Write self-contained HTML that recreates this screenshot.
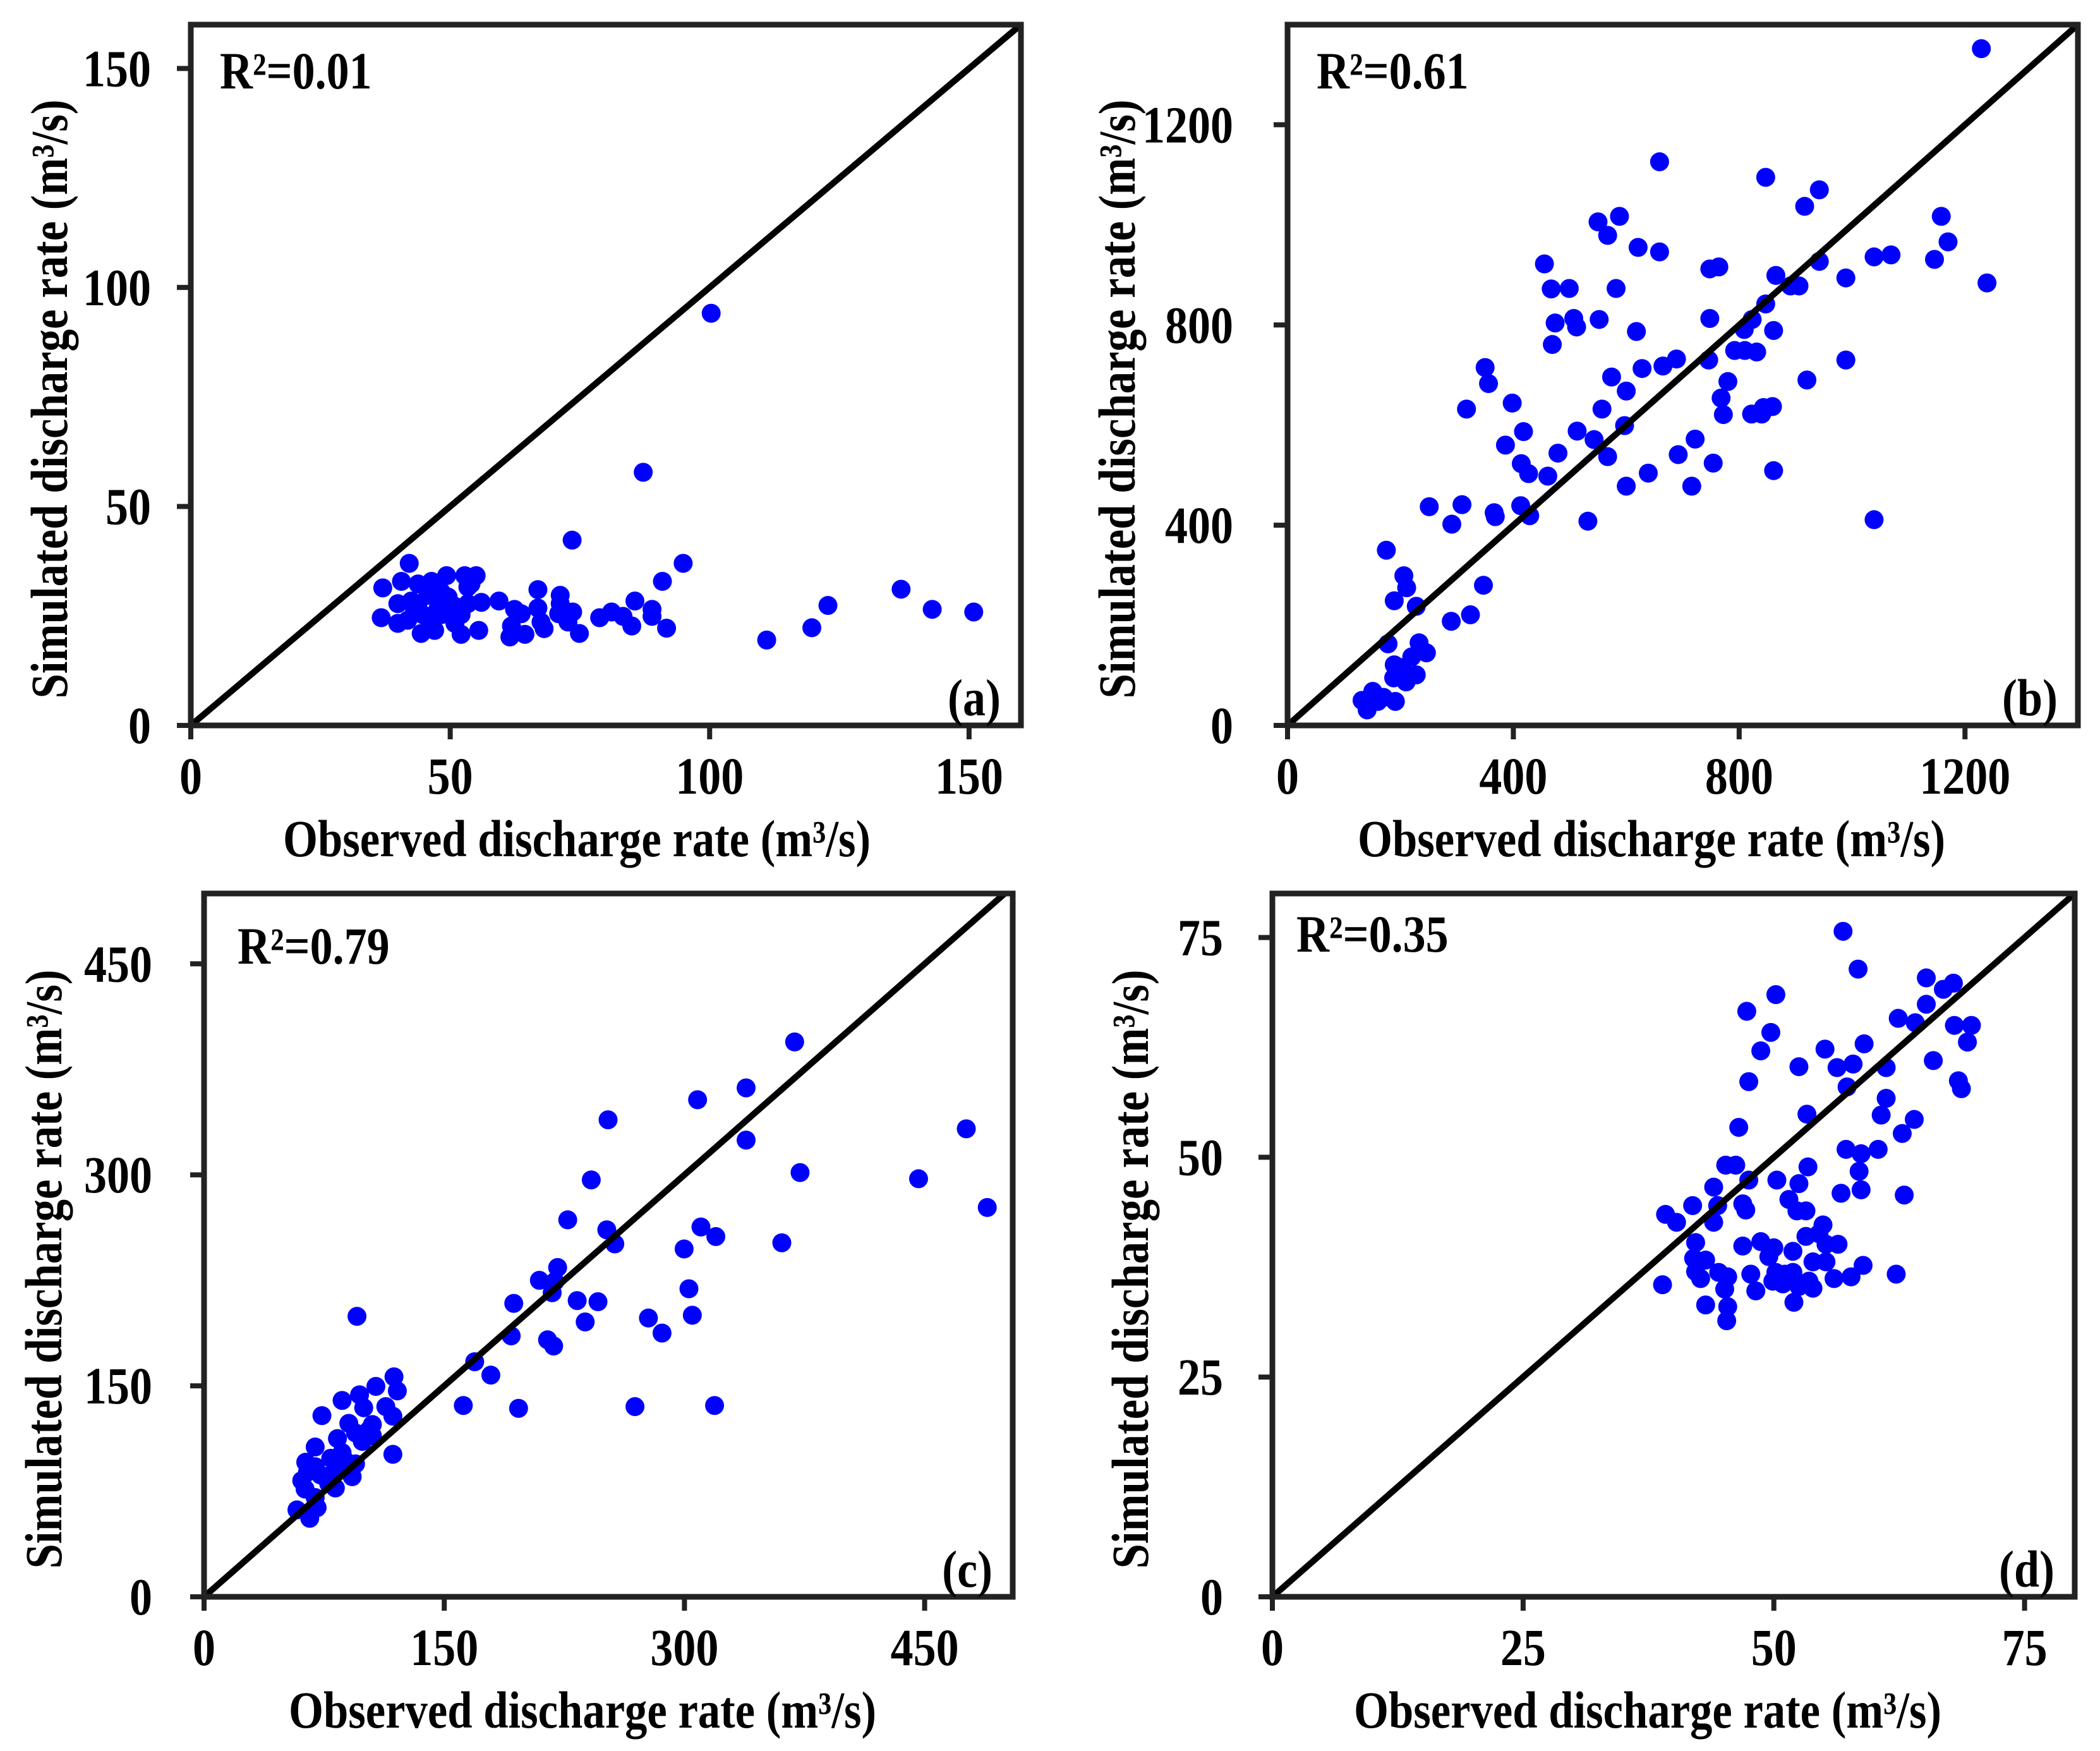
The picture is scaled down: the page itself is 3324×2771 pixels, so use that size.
<!DOCTYPE html>
<html><head><meta charset="utf-8"><style>
html,body{margin:0;padding:0;background:#fff;}
svg{display:block;}
text{font-family:"Liberation Serif","Times New Roman",serif;font-weight:bold;fill:#000;}
</style></head>
<body>
<svg id="fig" xmlns="http://www.w3.org/2000/svg" width="3324" height="2771" viewBox="0 0 3324 2771"></svg>
<script>
// Panel (a) data
const aObs = [100.3,87.2,73.5,94.9,90.9,136.9,142.9,150.9,122.8,119.7,111.0,91.7,88.9,88.9,85.6,85.0,83.3,81.1,78.8,74.9,73.6,72.7,70.9,71.2,71.2,68.1,67.5,66.9,66.9,64.4,63.7,62.4,61.5,61.8,59.4,55.5,56.0,55.0,53.4,52.1,52.1,52.8,50.9,49.3,48.3,47.0,47.6,46.4,44.4,44.7,43.8,42.1,42.5,41.8,40.6,39.9,39.9,37.0,36.7,45.7,43.8,49.6,54.0,48.3,43.1,50.9,53.4,46.4];
const aSim = [94.1,57.8,42.3,37.0,32.9,31.1,26.5,25.9,27.4,22.3,19.5,22.2,26.5,24.9,28.4,22.7,24.9,25.9,24.6,21.0,25.9,23.6,25.5,29.7,27.8,22.1,23.6,26.8,31.0,20.8,25.5,26.5,20.2,22.7,28.4,21.7,28.1,34.2,31.6,20.8,25.3,34.2,27.2,34.2,30.4,21.7,26.5,32.9,21.0,25.3,32.3,37.0,28.4,24.0,32.9,27.8,23.3,31.4,24.6,29.7,27.8,29.3,32.3,25.3,25.9,23.3,27.8,23.3];
// Panel (b) data
const bObs = [1229,659,847,942,916,588,1158,550,567,1170,621,659,455,1039,1069,1146,942,748,764,989,865,1239,891,906,467,499,582,847,474,507,512,552,748,823,809,861,618,469,792,810,831,689,665,746,989,350,628,574,780,920,356,600,768,398,317,557,772,822,840,859,843,597,418,513,543,722,386,479,692,567,414,754,427,461,639,861,600,716,251,309,413,366,368,429,291,532,1039,175,206,211,189,228,347,290,324,178,233,246,220,189,208,228,188,210,151,170,191,132,160,141,196];
const bSim = [1352,1126,1095,1070,1037,1017,1017,1006,979,966,955,946,922,936,940,931,927,912,916,894,899,884,878,878,872,873,873,842,804,813,796,811,813,811,791,789,787,761,749,749,746,732,718,730,730,715,713,696,687,690,683,668,654,644,632,632,621,622,622,637,635,599,587,588,571,572,560,544,541,537,523,524,503,498,504,509,478,478,437,441,439,425,417,419,402,408,411,350,299,275,249,238,280,208,221,163,165,145,137,121,104,101,95,87,68,56,48,50,48,31,117];
// Panel (c) data
const cObs = [368.8,338.5,308.2,252.3,476.0,338.5,372.2,446.2,241.8,489.1,227.1,251.5,310.3,319.6,256.5,360.8,299.8,220.8,209.4,219.1,217.4,302.8,233.0,246.0,193.4,277.5,304.9,238.0,286.0,191.8,214.5,218.3,169.0,179.1,161.9,196.4,269.1,318.8,95.5,118.6,107.3,120.7,97.1,86.2,113.5,99.7,117.9,73.6,90.4,105.1,94.6,83.3,105.1,98.8,117.9,69.4,86.2,63.5,79.1,94.6,69.4,61.0,72.8,82.0,92.5,63.1,82.0,69.4,70.6,58.0,66.0,77.8,88.3,103.0,64.6];
const cSim = [394.5,361.8,353.4,339.1,332.7,324.7,301.6,297.2,296.4,276.8,268.0,260.9,262.9,256.1,250.9,251.7,247.3,234.1,225.0,224.2,216.2,219.0,210.6,209.8,208.6,198.2,200.2,195.4,187.5,185.5,182.7,178.3,167.1,157.6,136.0,134.0,135.2,136.0,199.4,156.4,149.6,146.4,143.6,139.6,135.2,134.4,128.4,128.8,123.3,122.5,116.5,112.5,114.5,110.5,101.3,106.5,102.5,95.7,98.5,94.5,92.5,82.6,86.6,90.5,85.4,76.6,77.4,70.6,63.4,61.8,55.8,80.6,96.5,118.5,88.6];
// Panel (d) data
const dObs = [56.9,58.4,65.2,67.9,66.9,50.2,65.2,47.3,62.4,64.1,68.0,69.7,49.7,59.0,69.3,48.7,55.1,65.9,57.9,52.5,56.3,61.2,47.5,57.3,68.4,68.7,61.2,53.3,60.7,64.0,46.5,62.8,57.2,58.7,60.4,45.2,46.2,53.4,58.5,47.5,50.3,52.5,44.0,56.7,58.7,63.0,51.5,41.9,44.4,46.9,47.2,52.3,53.2,39.2,40.3,44.0,54.9,53.2,54.5,42.2,48.7,46.9,50.0,51.9,55.2,56.4,49.5,42.0,43.2,53.9,55.2,58.9,42.2,44.5,47.7,50.2,51.1,51.9,45.4,42.7,62.2,56.0,57.7,49.9,50.9,53.5,52.5,38.9,45.1,53.9,48.2,52.0,43.2,45.4,45.3];
const dSim = [75.7,71.4,70.4,69.8,69.1,68.5,67.4,66.6,65.8,65.3,65.0,65.0,64.2,62.9,63.1,62.1,62.3,61.0,60.6,60.3,60.2,60.2,58.6,58.0,58.7,57.8,56.7,54.9,54.8,54.3,53.4,52.7,50.9,50.4,50.9,49.1,49.1,48.9,48.4,47.4,47.4,47.0,46.6,45.9,46.3,45.7,45.2,44.5,44.5,44.7,44.0,43.9,43.9,43.5,42.6,42.6,42.3,41.0,41.3,40.3,40.4,39.9,39.7,39.3,40.1,40.1,38.7,38.5,38.3,38.1,38.1,37.7,37.0,36.9,36.7,36.9,36.7,36.9,36.4,36.2,36.7,36.2,36.4,35.9,35.6,35.9,35.3,35.5,35.0,35.1,34.8,33.5,33.2,33.0,31.4];
// Tick labels
const aTicks = [0,50,100,150];
const bTicks = [0,400,800,1200];
const cTicks = [0,150,300,450];
const dTicks = [0,25,50,75];
const r2Labels = ["R²=0.01","R²=0.61","R²=0.79","R²=0.35"];
const panelLetters = ["(a)","(b)","(c)","(d)"];

const NS = "http://www.w3.org/2000/svg";
const svg = document.getElementById('fig');
const TS = 1.15; // vertical text stretch
function mk(tag, attrs, parent){
  const e = document.createElementNS(NS, tag);
  for (const k in attrs) e.setAttribute(k, attrs[k]);
  (parent||svg).appendChild(e);
  return e;
}
function txt(parent, x, y, str, attrs, rot){
  const a = Object.assign({x: 0, y: 0, 'font-size': 72}, attrs);
  a.transform = 'translate(' + x + ',' + y + ')' + (rot ? ' rotate(-90)' : '') + ' scale(1,' + TS + ')';
  const t = mk('text', a, parent);
  t.textContent = str;
  return t;
}
const panels = [
  {id:'a', L:302, R:1616, T:39, B:1148, xmax:160, ymax:160, dmax:160, obs:aObs, sim:aSim, ticks:aTicks, ylg:63, ytx:78, xtc:913, r2x:348, r2y:140},
  {id:'b', L:2038, R:3289, T:39, B:1148, xmax:1400, ymax:1400, dmax:1400, obs:bObs, sim:bSim, ticks:bTicks, ylg:86, ytx:1768, xtc:2614, r2x:2084, r2y:140},
  {id:'c', L:323, R:1603, T:1414, B:2527, xmax:505, ymax:500, dmax:500, obs:cObs, sim:cSim, ticks:cTicks, ylg:82, ytx:69, xtc:922, r2x:376, r2y:1525},
  {id:'d', L:2014, R:3284, T:1414, B:2527, xmax:80, ymax:80, dmax:80, obs:dObs, sim:dSim, ticks:dTicks, ylg:78, ytx:1789, xtc:2608, r2x:2052, r2y:1506}
];
panels.forEach((p, i) => {
  const g = mk('g', {});
  
  
  const sx = v => p.L + (p.R - p.L) * v / p.xmax;
  const sy = v => p.B - (p.B - p.T) * v / p.ymax;
  const pts = mk('g', {}, g);
  
  
  for (let k = 0; k < p.obs.length; k++) {
    const c = mk('circle', {cx: sx(p.obs[k]), cy: sy(p.sim[k]), r: 15, fill: '#0000ff'}, pts);
    
    
  }
  const ln = mk('line', {x1: sx(0), y1: sy(0), x2: sx(p.dmax), y2: sy(p.dmax), stroke: '#000', 'stroke-width': 10}, g);
  
  
  const bx = mk('rect', {x: p.L, y: p.T, width: p.R - p.L, height: p.B - p.T, fill: 'none', stroke: '#222', 'stroke-width': 9}, g);
  
  
  p.ticks.forEach(t => {
    const x = sx(t), y = sy(t);
    const tx = mk('line', {x1: x, y1: p.B, x2: x, y2: p.B + 22, stroke: '#222', 'stroke-width': 8}, g);
    
    
    const ty = mk('line', {x1: p.L - 22, y1: y, x2: p.L, y2: y, stroke: '#222', 'stroke-width': 8}, g);
    
    
    const xl = txt(g, x, p.B + 108, t, {'text-anchor': 'middle'});
    
    
    const yl = txt(g, p.L - p.ylg, y + 28, t, {'text-anchor': 'end'});
    
    
  });
  const xt = txt(g, p.xtc, p.B + 207, 'Observed discharge rate (m³/s)', {'text-anchor': 'middle', textLength: 930, lengthAdjust: 'spacingAndGlyphs'});
  
  
  const cy = (p.T + p.B) / 2 + 38;
  const yt = txt(g, p.ytx + 28, cy, 'Simulated discharge rate (m³/s)', {'text-anchor': 'middle', textLength: 948, lengthAdjust: 'spacingAndGlyphs'}, true);
  
  
  const r2 = txt(g, p.r2x, p.r2y, r2Labels[i], {});
  
  
  const pl = txt(g, p.R - 32, p.B - 16, panelLetters[i], {'text-anchor': 'end'});
  
  
});
</script>
</body></html>
